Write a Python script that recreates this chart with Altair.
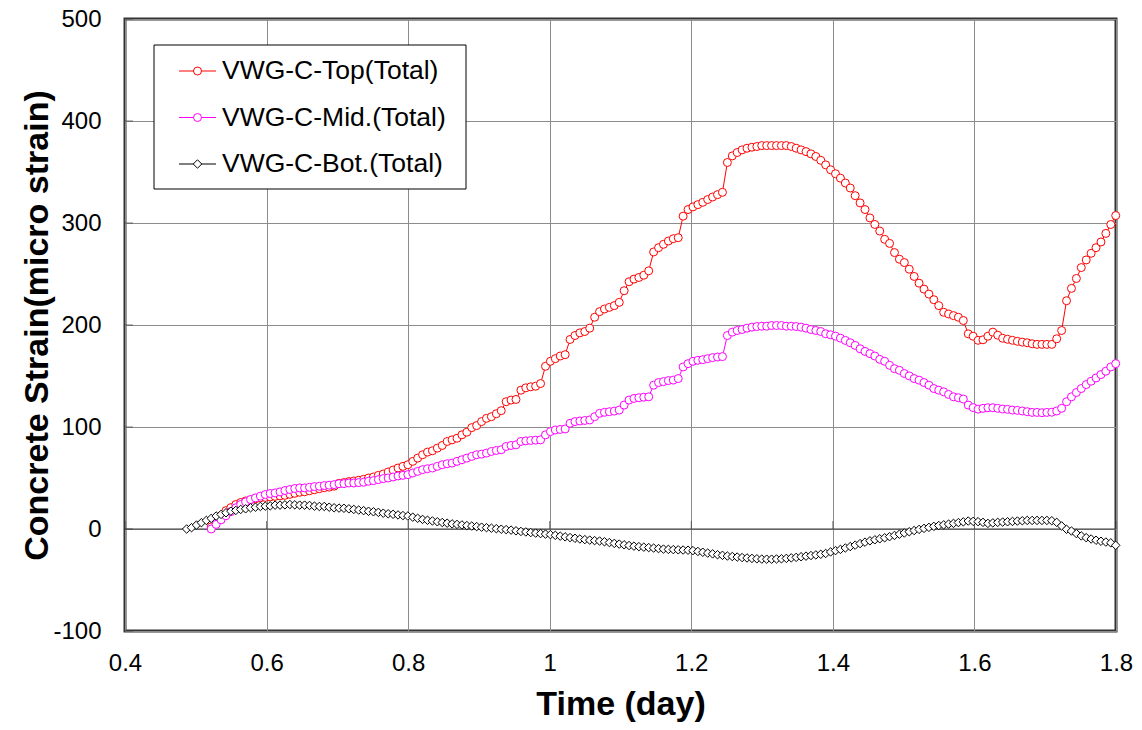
import altair as alt
import pandas as pd

# ---------------- data ----------------
SAMPLES_PER_DAY = 144          # one reading every 10 minutes
SAMPLE_PHASE = 0.14            # offset of the sampling grid (in samples)

series_names = ["VWG-C-Top(Total)", "VWG-C-Mid.(Total)", "VWG-C-Bot.(Total)"]
series_colors = ["#FF0000", "#FF00FF", "#000000"]
series_shapes = ["circle", "circle", "diamond"]

top_start = 75
top_values = [
    2, 8, 13, 18, 21, 24, 26, 27.5, 28.5, 29.5,
    30.5, 31, 31.5, 32, 32.5, 33, 34, 35, 36, 36.5,
    37.5, 38.5, 39.5, 40.5, 41, 42,
    44.8, 45.5, 46.5, 47.1, 47.8, 48.7, 50, 51, 52.6, 53.9,
    55.9, 57.8, 59.8, 61.4, 63, 66.3, 69.5, 72.8, 75.4, 76.7,
    79.3, 81.9, 85.8, 87.4, 89, 92.3, 94.9, 99.4, 101.4, 105.3,
    108.5, 110.1, 113, 116, 124.8, 126.4, 127,
    136.1, 138.4, 139.4, 140, 142.6,
    159.5, 164.4, 167, 169.6, 170.9,
    185.8, 189.7, 192.3, 193.6, 196.9,
    207.6, 213.1, 215.7, 217.3, 219, 222.2,
    233.6, 242.4, 245, 246.6, 248.8, 253.1,
    271.6, 275.8, 279.1, 282.3, 284.6, 285.6,
    306.7, 313.2, 315.8, 318, 320.3, 323, 325.5, 327.8, 330.1,
    359.3, 365.8, 369.1, 371.7, 373.3, 374.3, 375, 375.9, 375.9, 375.9,
    375.9, 375.9, 375.9, 375, 373.3, 371.7, 370, 367.8, 365.2, 361.5,
    357, 352.2, 348.3, 344, 339.2, 334.3, 326.8, 319.7, 313.2, 305,
    298.6, 292.1, 284, 280, 271, 264.5, 261.2, 254.7, 247.6, 241,
    235.2, 230.3, 224.8, 219, 212.5, 210.8, 209.2, 207.6, 204.4, 191.3,
    189, 185, 185.5, 189, 193, 190, 187, 186, 185, 184,
    183.2, 182.6, 181.6, 181, 181, 181, 181, 186.5, 194.6, 223.8,
    235.9, 245.6, 256.3, 263.8, 270.3, 275.8, 281.4, 289.8, 298.5, 307.3, 316,
]

mid_start = 75
mid_values = [
    0, 4.5, 9, 13, 17, 20.8, 24, 26.6, 28.9, 30.5,
    32.2, 33.8, 34.8, 35.4, 36.4, 37.7, 38.7, 39.7, 40.3, 40.3,
    40.9, 41.6, 41.9, 42.6, 42.9, 43.5,
    44.4, 44.5, 45.1, 45.1, 45.5, 45.8, 46.8, 47.4, 48.4, 49.4,
    50, 51, 52, 52.6, 53.3, 54.9, 56.5, 58.2, 59.1, 59.8,
    61.4, 63, 64, 64.6, 66.3, 67.9, 69.5, 71.2, 72.8, 73.4,
    74.4, 76, 77,
    77.7, 80.9, 81.9, 82.5, 85.8, 86.4, 86.8, 87.1, 87.4,
    92.3, 95.5, 97.1, 97.6, 98.1,
    103.6, 105.3, 105.9, 106.4, 106.9,
    110.1, 113.4, 114.4, 115, 115.6, 116.6,
    121.5, 126.4, 128, 128.7, 129.2, 129.6,
    141, 143.6, 144.5, 145.5, 146, 147.5,
    158.9, 162.1, 164.4, 165.4, 166, 167, 168, 168.6, 169,
    189.7, 193, 194.6, 195.6, 196.9, 197.9, 198.5, 198.8, 198.8, 199.5,
    199.5, 199.5, 198.8, 198.8, 198.5, 197.9, 196.9, 195.6, 194.6, 193.6,
    191.4, 190.4, 189.1, 187.1, 184.9, 182.6, 180, 176.7, 174.1, 171.9,
    169.6, 166.3, 164.4, 160.5, 157.2, 155.6, 152.4, 150.1, 147.5, 145.9,
    143.6, 141, 137.7, 136.1, 134.5, 131.9, 129.6, 128.7, 127.4, 121.5,
    119, 117.5, 118.3, 118.9, 118.9, 118.3, 117.6, 117.3, 116.6, 116.3,
    115.7, 115, 114.3, 114.3, 114, 114.3, 114.5, 115.7, 118.3, 124.8,
    129.6, 133.8, 137.7, 141.6, 144.9, 148.1, 151.4, 154.7, 158.9, 162.1, 167,
]

bot_start = 70
bot_values = [
    0, 1.3, 3.9, 6.2, 8.4, 10.4, 12.7, 14.3, 15.9, 17.5,
    18.2, 19.2, 19.8, 20.8, 21.4, 22.1, 22.4, 22.7, 23.4, 23.4,
    23.7, 24, 23.7, 23.4, 23.4, 23.1, 22.4, 22.1, 22.1, 21.4,
    20.8, 20.5, 20.3, 19.8, 19.2, 18.6, 18, 17.4, 16.9, 16.3,
    15.5, 14.9, 14.4, 13.8, 13.2, 12.7, 11.6, 10.5, 9.4, 8.6,
    7.9, 7.1, 6.4, 5.7, 5, 4.5, 4, 3.4, 2.9, 2.4,
    1.8, 1.3, 0.8, 0.3, -0.2, -0.6, -1.1, -1.8, -2.4, -2.9,
    -3.5, -4, -4.5, -5, -5.5, -6.2, -7, -7.7, -8.4, -9.1,
    -9.8, -10.4, -10.9, -11.4, -11.8, -12.5, -13.3, -14.1, -14.8, -15.5,
    -16.2, -16.8, -17.3, -17.8, -18.2, -18.7, -19.2, -19.7, -20, -20.2,
    -20.4, -20.6, -20.8, -21.2, -22, -22.8, -23.6, -24.4, -25.2, -25.8,
    -26.5, -27, -27.5, -28, -28.4, -28.8, -29.2, -29.5, -29.6, -29.6,
    -29.4, -29.2, -28.8, -28.3, -27.8, -27.2, -26.6, -26, -25.4, -24.8,
    -24, -22.5, -21.2, -20, -18.6, -17.2, -15.8, -14.3, -12.9, -11.6,
    -10.6, -9.6, -8.6, -7.5, -6.3, -5.1, -3.9, -2.7, -1.5, -0.4,
    0.6, 1.6, 2.6, 3.4, 4.1, 4.8, 5.5, 6.3, 7, 7.8,
    7.5, 7.2, 6.5, 5.5, 6, 6.5, 6.8, 7.1, 7.4, 7.8,
    8.1, 8.4, 8.4, 8.4, 8.4, 8.4, 8.1, 6.5, 3, -0.3,
    -2, -4.5, -6.8, -8.5, -9.8, -11, -12, -12.8, -13.6, -16,
]

x_ticks = [0.4, 0.6, 0.8, 1, 1.2, 1.4, 1.6, 1.8]
y_ticks = [-100, 0, 100, 200, 300, 400, 500]

# ---------------- tables ----------------
rows = []
for name, start, vals in zip(series_names,
                             [top_start, mid_start, bot_start],
                             [top_values, mid_values, bot_values]):
    for i, v in enumerate(vals):
        rows.append({"series": name,
                     "t": (start + i + SAMPLE_PHASE) / SAMPLES_PER_DAY,
                     "v": v})
df = pd.DataFrame(rows)

FONT = "Liberation Sans"
GRID = "#8c8c8c"
AXIS_DARK = "#3a3a3a"
PLOT_W, PLOT_H = 991, 612
CIRCLE_SIZE, DIAMOND_SIZE = 64, 72

x_enc = alt.X(
    "t:Q",
    scale=alt.Scale(domain=[0.4, 1.8], nice=False, zero=False),
    axis=alt.Axis(values=x_ticks, format="~g", title="Time (day)",
                  grid=True, gridColor=GRID, gridWidth=1, ticks=False,
                  domain=False, labelFont=FONT, labelFontSize=24,
                  labelColor="black", labelPadding=20, labelFlush=False,
                  titleFont=FONT, titleFontSize=34, titleFontWeight="bold",
                  titleColor="black", titleY=73, titleBaseline="middle"),
)
y_enc = alt.Y(
    "v:Q",
    scale=alt.Scale(domain=[-100, 500], nice=False, zero=False),
    axis=alt.Axis(values=y_ticks, labelExpr="'' + datum.value",
                  title="Concrete Strain(micro strain)",
                  grid=True, gridColor=GRID, gridWidth=1, ticks=False,
                  domain=False, labelFont=FONT, labelFontSize=24,
                  labelColor="black", labelPadding=24, labelFlush=False,
                  titleFont=FONT, titleFontSize=34, titleFontWeight="bold",
                  titleColor="black", titleX=-88, titleY=PLOT_H / 2,
                  titleAlign="center", titleBaseline="middle"),
)

layers = []

# zero line (horizontal axis line crossing at 0) with its upward ticks
zero_df = pd.DataFrame({"v": [0]})
layers.append(alt.Chart(zero_df).mark_rule(color=AXIS_DARK, strokeWidth=1)
              .encode(y=y_enc))
xt_df = pd.DataFrame({"t": x_ticks, "v": [0] * len(x_ticks)})
layers.append(alt.Chart(xt_df).mark_tick(orient="vertical", size=8, thickness=1,
                                         color=AXIS_DARK, yOffset=-4)
              .encode(x=x_enc, y=y_enc))
yt_df = pd.DataFrame({"t": [0.4] * len(y_ticks), "v": y_ticks})
layers.append(alt.Chart(yt_df).mark_tick(orient="horizontal", size=8, thickness=1,
                                         color=AXIS_DARK, xOffset=4)
              .encode(x=x_enc, y=y_enc))

# data series: line + hollow markers
for name, color, shape in zip(series_names, series_colors, series_shapes):
    base = alt.Chart(df).transform_filter(alt.datum.series == name)
    layers.append(base.mark_line(color=color, strokeWidth=1, clip=True)
                  .encode(x=x_enc, y=y_enc, order="t:Q"))
    layers.append(base.transform_filter(alt.datum.t <= 1.8)
                  .mark_point(shape=shape, filled=True, fill="white",
                              stroke=color, strokeWidth=1, opacity=1,
                              size=CIRCLE_SIZE if shape == "circle" else DIAMOND_SIZE)
                  .encode(x=x_enc, y=y_enc))

# legend box (chart furniture, top-left of plot)
layers.append(alt.Chart(zero_df).mark_rect(fill="white", stroke="black", strokeWidth=1)
              .encode(x=alt.value(29), x2=alt.value(341),
                      y=alt.value(26), y2=alt.value(170)))
for i, (name, color, shape) in enumerate(zip(series_names, series_colors, series_shapes)):
    ly = 52 + 46.5 * i
    lab = pd.DataFrame({"label": [name]})
    layers.append(alt.Chart(lab).mark_rule(color=color, strokeWidth=1)
                  .encode(x=alt.value(54), x2=alt.value(91), y=alt.value(ly)))
    layers.append(alt.Chart(lab).mark_point(shape=shape, filled=True, fill="white",
                                            stroke=color, strokeWidth=1, opacity=1,
                                            size=CIRCLE_SIZE if shape == "circle" else DIAMOND_SIZE)
                  .encode(x=alt.value(72.5), y=alt.value(ly)))
    layers.append(alt.Chart(lab).mark_text(align="left", baseline="middle",
                                           font=FONT, fontSize=26.5, color="black")
                  .encode(x=alt.value(97), y=alt.value(ly), text="label:N"))

chart = (
    alt.layer(*layers)
    .properties(width=PLOT_W, height=PLOT_H,
                autosize=alt.AutoSizeParams(type="none"),
                padding={"left": 117, "top": 11, "right": 18, "bottom": 91})
    .configure_view(stroke="#333333", strokeWidth=3)
)

chart.save("out.html", embed_options={"renderer": "svg", "actions": False})
